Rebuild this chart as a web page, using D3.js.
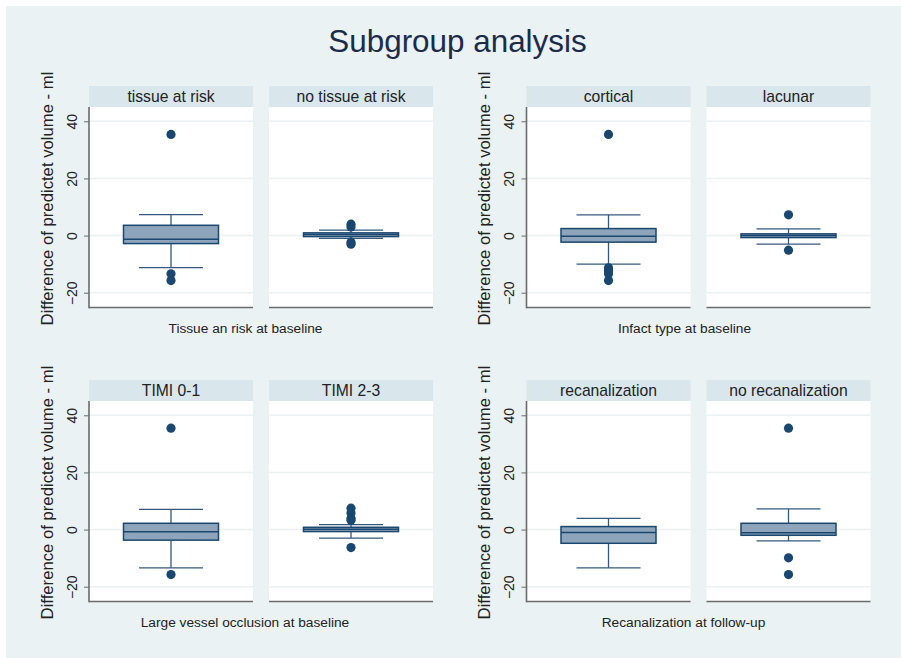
<!DOCTYPE html>
<html>
<head>
<meta charset="utf-8">
<script src="https://cdn.jsdelivr.net/npm/d3@7"></script>
<style>
  html, body { margin: 0; padding: 0; background: #ffffff; }
  svg { display: block; font-family: "Liberation Sans", Arial, sans-serif; }
</style>
</head>
<body>
<svg id="chart" width="901" height="658"></svg>
<script>
// Subgroup comparisons: four grouping variables, two levels each
const groupTitles = [
  "Tissue an risk at baseline",
  "Infact type at baseline",
  "Large vessel occlusion at baseline",
  "Recanalization at follow-up"
];
const categories = [
  "tissue at risk", "no tissue at risk",
  "cortical", "lacunar",
  "TIMI 0-1", "TIMI 2-3",
  "recanalization", "no recanalization"
];
// Box-plot summaries (ml) for each subgroup, in the order of `categories`
const whiskerLow  = [-11.2, -1.0, -10.0, -3.0, -13.4, -3.0, -13.4, -3.95];
const q1          = [-2.8, -0.35, -2.3, -0.7, -3.7, -0.7, -4.8, -2.0];
const medians     = [-1.3, 0.4, -0.2, 0.0, -0.8, 0.1, -1.05, -1.15];
const q3          = [3.6, 0.95, 2.45, 0.6, 2.2, 0.8, 1.05, 2.2];
const whiskerHigh = [7.35, 1.9, 7.25, 2.35, 7.1, 1.75, 3.95, 7.25];
const outliers = [
  [35.4, -13.4, -15.75],
  [4.0, 3.0, -2.3, -3.0],
  [35.4, -11.3, -12.3, -13.4, -15.75],
  [7.25, -5.1],
  [35.5, -15.75],
  [7.5, 5.8, 4.0, 3.3, -6.3],
  [],
  [35.5, -9.9, -15.75]
];
const yTicks = [-20, 0, 20, 40];
const yDomain = [-25, 45];
const yTitle = "Difference of predictet volume - ml";
const mainTitle = "Subgroup analysis";

const svg = d3.select("#chart");
const C = {
  bg: "#eaf2f3", strip: "#d9e6eb", grid: "#eaf2f3", axis: "#6b6b6b",
  boxFill: "#8ea4ba", navy: "#1a476f", whisker: "#34597c", text: "#222222",
  title: "#1c2b4a"
};

// page background
svg.append("rect").attr("x", 6).attr("y", 6).attr("width", 895).attr("height", 652).attr("fill", C.bg);

svg.append("text")
  .attr("x", 457.5).attr("y", 51.5)
  .attr("text-anchor", "middle")
  .attr("font-size", 31.4).attr("fill", C.title)
  .text(mainTitle);

// geometry of each of the four sub-graphs
const blocks = [
  { axisX: 89,    plotTop: 107, titleY: 328, labelX: 46.5, titleX: 245.5 },
  { axisX: 526.5, plotTop: 107, titleY: 328, labelX: 483.5, titleX: 684.5 },
  { axisX: 89,    plotTop: 401, titleY: 622, labelX: 46.5, titleX: 245 },
  { axisX: 526.5, plotTop: 401, titleY: 622, labelX: 483.5, titleX: 683.5 }
];
const panelW = 164, panelGap = 16, plotH = 200, stripH = 21;
const boxW = 95, capW = 64, dotR = 4.6;

blocks.forEach((b, gi) => {
  const g = svg.append("g");
  const y = d3.scaleLinear().domain(yDomain).range([b.plotTop + plotH, b.plotTop]);
  const x = d3.scaleBand().domain([0, 1])
    .range([b.axisX, b.axisX + 2 * panelW + panelGap])
    .paddingInner(panelGap / (panelW + panelGap))
    .paddingOuter(0);

  [0, 1].forEach(pi => {
    const idx = gi * 2 + pi;
    const x0 = x(pi), w = x.bandwidth(), cx = x0 + w / 2;
    const p = g.append("g");

    // strip header
    p.append("rect").attr("x", x0).attr("y", b.plotTop - stripH)
      .attr("width", w).attr("height", stripH).attr("fill", C.strip);
    p.append("text").attr("x", cx).attr("y", b.plotTop - stripH / 2)
      .attr("dy", "0.36em").attr("text-anchor", "middle")
      .attr("font-size", 15.7).attr("fill", C.text)
      .text(categories[idx]);

    // plot region and gridlines
    p.append("rect").attr("x", x0).attr("y", b.plotTop)
      .attr("width", w).attr("height", plotH).attr("fill", "#ffffff");
    p.selectAll(".grid").data(yTicks).join("line")
      .attr("x1", x0).attr("x2", x0 + w)
      .attr("y1", d => y(d)).attr("y2", d => y(d))
      .attr("stroke", C.grid).attr("stroke-width", 1.6);

    // whiskers
    const wk = p.append("g").attr("stroke", C.whisker).attr("stroke-width", 1.3).attr("fill", "none");
    wk.append("line").attr("x1", cx).attr("x2", cx).attr("y1", y(q3[idx])).attr("y2", y(whiskerHigh[idx]));
    wk.append("line").attr("x1", cx).attr("x2", cx).attr("y1", y(q1[idx])).attr("y2", y(whiskerLow[idx]));
    wk.append("line").attr("x1", cx - capW / 2).attr("x2", cx + capW / 2)
      .attr("y1", y(whiskerHigh[idx])).attr("y2", y(whiskerHigh[idx]));
    wk.append("line").attr("x1", cx - capW / 2).attr("x2", cx + capW / 2)
      .attr("y1", y(whiskerLow[idx])).attr("y2", y(whiskerLow[idx]));

    // box and median
    p.append("rect").attr("x", cx - boxW / 2).attr("y", y(q3[idx]))
      .attr("width", boxW).attr("height", Math.max(y(q1[idx]) - y(q3[idx]), 0.5))
      .attr("fill", C.boxFill).attr("stroke", C.navy).attr("stroke-width", 1.5);
    p.append("line").attr("x1", cx - boxW / 2).attr("x2", cx + boxW / 2)
      .attr("y1", y(medians[idx])).attr("y2", y(medians[idx]))
      .attr("stroke", C.navy).attr("stroke-width", 1.5);

    // outside values
    p.selectAll(".out").data(outliers[idx]).join("circle")
      .attr("cx", cx).attr("cy", d => y(d)).attr("r", dotR)
      .attr("fill", C.navy);

    // bottom axis line
    p.append("line").attr("x1", x0).attr("x2", x0 + w)
      .attr("y1", b.plotTop + plotH + 0.5).attr("y2", b.plotTop + plotH + 0.5)
      .attr("stroke", C.axis).attr("stroke-width", 1.6);
  });

  // left axis
  const yAxis = d3.axisLeft(y).tickValues(yTicks).tickSize(5).tickPadding(0).tickFormat(d3.format("d"));
  const ag = g.append("g").attr("transform", `translate(${b.axisX},0)`).call(yAxis);
  ag.select(".domain").attr("stroke", C.axis).attr("stroke-width", 1.6)
    .attr("d", `M0,${b.plotTop}V${b.plotTop + plotH + 1.3}`);
  ag.selectAll(".tick line").attr("stroke", C.axis).attr("stroke-width", 1);
  ag.selectAll(".tick text")
    .attr("font-family", "Liberation Sans, Arial, sans-serif")
    .attr("font-size", 14).attr("fill", C.text)
    .attr("text-anchor", "middle")
    .attr("x", null).attr("dy", null)
    .attr("transform", `translate(${b.labelX + 25.5 - b.axisX},0) rotate(-90)`)
    .attr("dy", "0.36em");

  // axis titles
  g.append("text")
    .attr("transform", `translate(${b.labelX},${b.plotTop + 91.5}) rotate(-90)`)
    .attr("dy", "0.36em").attr("text-anchor", "middle")
    .attr("font-size", 16.7).attr("fill", C.text)
    .text(yTitle);
  g.append("text").attr("x", b.titleX).attr("y", b.titleY)
    .attr("dy", "0.36em").attr("text-anchor", "middle")
    .attr("font-size", 13.7).attr("fill", C.text)
    .text(groupTitles[gi]);
});
</script>
</body>
</html>
